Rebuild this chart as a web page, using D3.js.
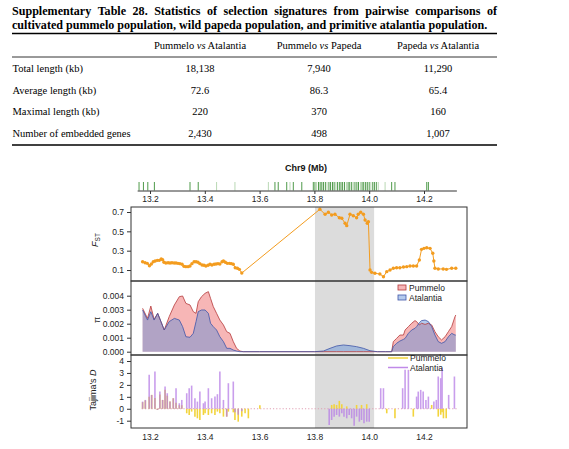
<!DOCTYPE html>
<html><head><meta charset="utf-8">
<script src="https://cdn.jsdelivr.net/npm/d3@7"></script>
<style>body{margin:0;background:#fff}</style>
</head><body>
<svg id="c" width="569" height="449"></svg>
<script>
// ---------------- DATA ----------------
const titleLine1 = "Supplementary Table 28. Statistics of selection signatures from pairwise comparisons of";
const titleLine2 = "cultivated pummelo population, wild papeda population, and primitive atalantia population.";
const tableColumns = [["Pummelo", "vs", "Atalantia"], ["Pummelo", "vs", "Papeda"], ["Papeda", "vs", "Atalantia"]];
const rowLabels = ["Total length (kb)", "Average length (kb)", "Maximal length (kb)", "Number of embedded genes"];
const colPummeloAtalantia = ["18,138", "72.6", "220", "2,430"];
const colPummeloPapeda = ["7,940", "86.3", "370", "498"];
const colPapedaAtalantia = ["11,290", "65.4", "160", "1,007"];

const chartTitle = "Chr9 (Mb)";
const xTicks = [13.2, 13.4, 13.6, 13.8, 14.0, 14.2];
const trackExtent = [13.155, 14.32];
const selectedRegion = [13.802, 14.018];

const geneDark = [13.160, 13.176, 13.192, 13.216, 13.346, 13.376, 13.656, 13.668, 13.699, 13.723, 13.754,
  13.796, 13.802, 13.815, 13.821, 13.827, 13.833, 13.840, 13.853, 13.859, 13.866, 13.872, 13.884, 13.891,
  13.897, 13.903, 13.910, 13.923, 13.929, 13.936, 13.948, 13.955, 13.961, 13.974, 13.980, 13.987, 13.993,
  14.000, 14.013, 14.019, 14.026, 14.082, 14.094, 14.210, 14.216];
const geneFaint = [13.443, 13.510, 13.632, 13.711, 13.808, 13.846, 13.878, 13.917, 13.942, 13.968, 14.006, 14.033, 14.058];

const fstTicks = [0.1, 0.3, 0.5, 0.7];
const fstPos = [13.173, 13.182, 13.190, 13.198, 13.205, 13.212, 13.219, 13.227, 13.234, 13.241, 13.246, 13.251,
  13.258, 13.266, 13.273, 13.280, 13.288, 13.295, 13.302, 13.309, 13.317, 13.324, 13.331, 13.339, 13.346, 13.353,
  13.361, 13.368, 13.375, 13.382, 13.390, 13.397, 13.404, 13.412, 13.419, 13.426, 13.434, 13.441, 13.448, 13.455,
  13.463, 13.468, 13.475, 13.482, 13.490, 13.497, 13.504, 13.511, 13.519, 13.526, 13.535,
  13.820, 13.839, 13.851, 13.863, 13.875, 13.891, 13.900, 13.912, 13.918, 13.930, 13.942, 13.954, 13.960, 13.969,
  13.979, 13.985, 13.993, 13.997, 14.003, 14.009, 14.021, 14.039, 14.052, 14.064, 14.076, 14.088, 14.100, 14.112,
  14.125, 14.137, 14.149, 14.161, 14.173, 14.183, 14.191, 14.200, 14.210, 14.222, 14.232, 14.236, 14.240, 14.252,
  14.270, 14.282, 14.301, 14.316];
const fstValues = [0.186, 0.176, 0.169, 0.145, 0.162, 0.186, 0.193, 0.200, 0.200, 0.214, 0.207, 0.180,
  0.173, 0.176, 0.173, 0.176, 0.173, 0.173, 0.169, 0.166, 0.159, 0.138, 0.135, 0.135, 0.142, 0.166,
  0.186, 0.186, 0.180, 0.166, 0.152, 0.149, 0.142, 0.149, 0.159, 0.152, 0.159, 0.162, 0.166, 0.162,
  0.186, 0.193, 0.180, 0.169, 0.169, 0.166, 0.159, 0.124, 0.118, 0.107, 0.069,
  0.728, 0.676, 0.697, 0.669, 0.676, 0.641, 0.635, 0.583, 0.559, 0.676, 0.662, 0.641, 0.676, 0.697,
  0.676, 0.617, 0.583, 0.600, 0.100, 0.076, 0.066, 0.059, 0.031, 0.083, 0.100, 0.118, 0.124, 0.124,
  0.131, 0.135, 0.142, 0.142, 0.142, 0.204, 0.314, 0.324, 0.331, 0.324, 0.273, 0.193, 0.118, 0.111,
  0.111, 0.107, 0.118, 0.118];

const piTicks = [0, 0.001, 0.002, 0.003, 0.004];
const piPos = [13.173, 13.191, 13.203, 13.215, 13.228, 13.240, 13.252, 13.270, 13.289, 13.307, 13.319, 13.331,
  13.346, 13.358, 13.368, 13.376, 13.388, 13.401, 13.413, 13.421, 13.431, 13.443, 13.455, 13.468, 13.480, 13.492,
  13.504, 13.516, 13.528, 13.540,
  13.600, 13.700, 13.800, 13.833, 13.857, 13.881, 13.906, 13.930, 13.954, 13.979, 14.003, 14.030, 14.060,
  14.082, 14.088, 14.100, 14.112, 14.125, 14.131, 14.143, 14.155, 14.167, 14.173, 14.183, 14.191, 14.204,
  14.216, 14.228, 14.240, 14.252, 14.264, 14.277, 14.289, 14.301, 14.313, 14.316];
const piPummelo = [0.00310, 0.00238, 0.00326, 0.00231, 0.00274, 0.00215, 0.00155, 0.00250, 0.00334, 0.00393, 0.00398, 0.00345,
  0.00334, 0.00286, 0.00274, 0.00357, 0.00393, 0.00417, 0.00429, 0.00381, 0.00322, 0.00274, 0.00226, 0.00191, 0.00143, 0.00131,
  0.00072, 0.00024, 0.00005, 0,
  0, 0, 0, 0, 0, 0, 0, 0, 0, 0, 0, 0, 0,
  0, 0.00072, 0.00095, 0.00119, 0.00119, 0.00155, 0.00179, 0.00203, 0.00222, 0.00215, 0.00191, 0.00203, 0.00195,
  0.00203, 0.00191, 0.00143, 0.00107, 0.00084, 0.00107, 0.00143, 0.00179, 0.00250, 0.00262];
const piAtalantia = [0.00298, 0.00226, 0.00286, 0.00226, 0.00274, 0.00215, 0.00155, 0.00215, 0.00238, 0.00226, 0.00179, 0.00107,
  0.00103, 0.00131, 0.00215, 0.00286, 0.00298, 0.00298, 0.00274, 0.00203, 0.00179, 0.00155, 0.00107, 0.00072, 0.00024, 0.00024,
  0.00012, 0.00005, 0, 0,
  0, 0, 0, 0.00005, 0.00024, 0.00041, 0.00048, 0.00043, 0.00036, 0.00024, 0.00007, 0, 0,
  0, 0.00036, 0.00060, 0.00076, 0.00088, 0.00095, 0.00131, 0.00155, 0.00167, 0.00179, 0.00207, 0.00222, 0.00226,
  0.00215, 0.00179, 0.00119, 0.00072, 0.00060, 0.00072, 0.00107, 0.00131, 0.00119, 0.00119];

const tdTicks = [-1, 0, 1, 2, 3, 4];
const tdPos = [13.173, 13.183, 13.197, 13.206, 13.218, 13.227, 13.236, 13.246, 13.255, 13.263, 13.273, 13.285,
  13.295, 13.307, 13.316, 13.334, 13.343, 13.352, 13.364, 13.373, 13.382, 13.395, 13.401, 13.413, 13.425, 13.437,
  13.446, 13.455, 13.468, 13.480, 13.486, 13.504, 13.510, 13.522, 13.535, 13.547, 13.559, 13.601,
  13.854, 13.863, 13.872, 13.881, 13.891, 13.900, 13.908, 13.918, 13.927, 13.936, 13.945, 13.954, 13.964,
  13.972, 13.981, 13.991, 14.000,
  14.042, 14.052, 14.064, 14.094, 14.122, 14.131, 14.143, 14.161, 14.173, 14.179, 14.188, 14.197, 14.207,
  14.216, 14.228, 14.236, 14.245, 14.252, 14.261, 14.266, 14.271, 14.281, 14.290, 14.311];
const tdPummelo = [0.55, 0.70, 1.00, 1.16, 0.90, -0.10, 1.20, 0.74, 1.60, 1.10, 0.60, 0.88,
  0.50, 0.30, 0.30, -0.38, -0.52, -0.24, -0.66, -0.80, -0.94, -0.52, -0.38, -0.52, -0.38, -0.52,
  -0.24, -0.38, -0.66, -0.66, -0.24, -0.30, -0.94, -1.08, -0.66, -0.38, -0.80, 0.30,
  0, 0.32, 0.38, 0.32, 0.66, 0.38, 0, 0.20, 0, 0, 0, 0.32, 0,
  0.32, 0, 0.38, 0,
  0, 0, -0.38, -0.80, 0, 0, 0, -0.66, 0, 0, 0, 0, 0,
  0, 0.32, 0, 0, -0.66, -0.50, -0.30, -0.80, -0.80, 0, 0];
const tdAtalantia = [0.60, 0.74, 2.84, 1.16, 3.12, -0.10, 1.44, 0.74, 1.86, 1.30, 0.60, 0.88,
  1.72, 0.46, 0.74, 1.30, 1.72, 1.94, 0.88, 0.60, 1.44, 0.46, 0.60, 1.72, 0.88, 1.02,
  1.22, 3.12, 0.74, -0.66, 2.14, 2.28, -0.30, -0.50, -0.20, 0, 0, 0,
  -1.36, -0.94, -0.66, -0.52, -0.66, -0.38, -0.66, -0.80, -0.52, -0.80, -1.42, -0.66, -1.08,
  -0.94, -1.22, -1.08, -1.08,
  1.72, 1.72, 0, 0, 1.72, 3.26, 3.26, 0, 1.02, 1.44, 1.58, 1.44, 0.74,
  1.02, 0, 0.60, 0.74, 2.70, 2.56, 3.40, 0, 0, 1.16, 2.70];

const seriesNames = ["Pummelo", "Atalantia"];

// ---------------- DRAW ----------------
const svg = d3.select("#c");
const serif = "'Liberation Serif', 'Times New Roman', serif";
const sans = "'Liberation Sans', Arial, sans-serif";

// ---- Table title (justified first line) ----
const probe = svg.append("text").attr("font-family", serif).attr("font-weight", "bold").attr("font-size", 12).text(titleLine2);
const w2 = probe.node().getComputedTextLength();
const titleSize = 12 * 476 / w2;
probe.remove();
const words = titleLine1.split(" ");
const wWidths = words.map(w => {
  const t = svg.append("text").attr("font-family", serif).attr("font-weight", "bold").attr("font-size", titleSize).text(w);
  const wd = t.node().getComputedTextLength(); t.remove(); return wd;
});
const gap = (497 - 12 - d3.sum(wWidths)) / (words.length - 1);
let cx = 12;
const tg = svg.append("g").attr("font-family", serif).attr("font-weight", "bold").attr("font-size", titleSize).attr("fill", "#000");
words.forEach((w, i) => { tg.append("text").attr("x", cx).attr("y", 15).text(w); cx += wWidths[i] + gap; });
tg.append("text").attr("x", 12).attr("y", 29).text(titleLine2);

// ---- Table ----
const tableG = svg.append("g").attr("font-family", serif).attr("font-size", 10.5).attr("fill", "#000");
tableG.append("line").attr("x1", 12).attr("x2", 497).attr("y1", 33.5).attr("y2", 33.5).attr("stroke", "#000").attr("stroke-width", 1.6);
tableG.append("line").attr("x1", 12).attr("x2", 497).attr("y1", 57).attr("y2", 57).attr("stroke", "#000").attr("stroke-width", 0.8);
tableG.append("line").attr("x1", 12).attr("x2", 497).attr("y1", 145).attr("y2", 145).attr("stroke", "#000").attr("stroke-width", 1.6);
const colX = [200, 319, 438];
const rowY = [72, 93.5, 115, 136.5];
tableColumns.forEach((c, i) => {
  const t = tableG.append("text").attr("x", colX[i]).attr("y", 49).attr("text-anchor", "middle");
  t.append("tspan").text(c[0] + " ");
  t.append("tspan").attr("font-style", "italic").text(c[1]);
  t.append("tspan").text(" " + c[2]);
});
const cols = [colPummeloAtalantia, colPummeloPapeda, colPapedaAtalantia];
rowLabels.forEach((r, j) => {
  tableG.append("text").attr("x", 12.5).attr("y", rowY[j]).text(r);
  cols.forEach((c, i) => tableG.append("text").attr("x", colX[i]).attr("y", rowY[j]).attr("text-anchor", "middle").text(c[j]));
});

// ---- Chart ----
const x = d3.scaleLinear().domain([13.2, 14.2]).range([150, 424]);
const L = 131, R = 467;
const pF = [207, 281], pP = [281, 355], pT = [355, 428];
const yF = d3.scaleLinear().domain([0, 0.7]).range([279.7, 212]);
const yP = d3.scaleLinear().domain([0, 0.004]).range([351.7, 295.7]);
const yT = d3.scaleLinear().domain([-1, 4]).range([420.7, 361]);

const chart = svg.append("g").attr("font-family", sans);

chart.append("text").attr("x", 306).attr("y", 171).attr("text-anchor", "middle")
  .attr("font-weight", "bold").attr("font-size", 9).attr("fill", "#111").text(chartTitle);

// gene track
chart.append("g").selectAll("line").data(geneFaint).join("line")
  .attr("x1", d => x(d)).attr("x2", d => x(d)).attr("y1", 182).attr("y2", 190.5)
  .attr("stroke", "#b9d8b4").attr("stroke-width", 1);
chart.append("g").selectAll("line").data(geneDark).join("line")
  .attr("x1", d => x(d)).attr("x2", d => x(d)).attr("y1", 182).attr("y2", 190.5)
  .attr("stroke", "#4f9a4a").attr("stroke-width", 1);
chart.append("line").attr("x1", x(trackExtent[0])).attr("x2", x(trackExtent[1])).attr("y1", 191).attr("y2", 191)
  .attr("stroke", "#333").attr("stroke-width", 1);
const topAxis = chart.append("g").attr("transform", "translate(0,191)")
  .call(d3.axisBottom(x).tickValues(xTicks).tickFormat(d3.format(".1f")).tickSize(3).tickPadding(2));
topAxis.select(".domain").remove();
topAxis.selectAll("line").attr("stroke", "#333");
topAxis.selectAll("text").attr("font-family", sans).attr("font-size", 8.5).attr("fill", "#222");

// selected region band
chart.append("rect").attr("x", x(selectedRegion[0])).attr("width", x(selectedRegion[1]) - x(selectedRegion[0]))
  .attr("y", pF[0]).attr("height", pT[1] - pF[0]).attr("fill", "#dcdcdc");

// FST
const fstData = fstPos.map((p, i) => [p, fstValues[i]]);
chart.append("path").datum(fstData)
  .attr("d", d3.line().x(d => x(d[0])).y(d => yF(d[1])))
  .attr("fill", "none").attr("stroke", "#f39c1f").attr("stroke-width", 1);
chart.append("g").selectAll("circle").data(fstData).join("circle")
  .attr("cx", d => x(d[0])).attr("cy", d => yF(d[1])).attr("r", 1.7).attr("fill", "#f39c1f");

// Pi
const piP = piPos.map((p, i) => [p, piPummelo[i]]);
const piA = piPos.map((p, i) => [p, piAtalantia[i]]);
const areaP = d3.area().x(d => x(d[0])).y0(yP(0)).y1(d => yP(d[1]));
const lineP = d3.line().x(d => x(d[0])).y(d => yP(d[1]));
chart.append("path").datum(piP).attr("d", areaP).attr("fill", "rgba(240,110,110,0.5)");
chart.append("path").datum(piA).attr("d", areaP).attr("fill", "rgba(90,140,215,0.45)");
chart.append("path").datum(piP).attr("d", lineP).attr("fill", "none").attr("stroke", "#b5383a").attr("stroke-width", 0.8);
chart.append("path").datum(piA).attr("d", lineP).attr("fill", "none").attr("stroke", "#3f55a8").attr("stroke-width", 0.8);

// Tajima's D
chart.append("line").attr("x1", x(13.17)).attr("x2", x(14.32)).attr("y1", yT(0)).attr("y2", yT(0))
  .attr("stroke", "#e0a0b4").attr("stroke-width", 1).attr("stroke-dasharray", "1.2,2");
const tdP = tdPos.map((p, i) => [p, tdPummelo[i]]).filter(d => d[1] !== 0);
const tdA = tdPos.map((p, i) => [p, tdAtalantia[i]]).filter(d => d[1] !== 0);
chart.append("g").selectAll("line").data(tdP).join("line")
  .attr("x1", d => x(d[0])).attr("x2", d => x(d[0])).attr("y1", yT(0)).attr("y2", d => yT(d[1]))
  .attr("stroke", "#f2d43c").attr("stroke-width", 1.6);
chart.append("g").selectAll("line").data(tdA).join("line")
  .attr("x1", d => x(d[0])).attr("x2", d => x(d[0])).attr("y1", yT(0)).attr("y2", d => yT(d[1]))
  .attr("stroke", "#b77ee6").attr("stroke-opacity", 0.75).attr("stroke-width", 1.6);

// panel boxes
[pF, pP, pT].forEach(p => {
  chart.append("rect").attr("x", L).attr("y", p[0]).attr("width", R - L).attr("height", p[1] - p[0])
    .attr("fill", "none").attr("stroke", "#333").attr("stroke-width", 1);
});

// y axes
function yAxis(scale, ticks, fmt) {
  const g = chart.append("g").attr("transform", `translate(${L},0)`)
    .call(d3.axisLeft(scale).tickValues(ticks).tickFormat(fmt).tickSize(4).tickPadding(3));
  g.select(".domain").remove();
  g.selectAll("line").attr("stroke", "#333");
  g.selectAll("text").attr("font-family", sans).attr("font-size", 8.5).attr("fill", "#222");
}
yAxis(yF, fstTicks, d3.format(".1f"));
yAxis(yP, piTicks, d3.format(".3f"));
yAxis(yT, tdTicks, d => String(d));

// bottom axis
const botAxis = chart.append("g").attr("transform", `translate(0,${pT[1]})`)
  .call(d3.axisBottom(x).tickValues(xTicks).tickFormat(d3.format(".1f")).tickSize(0).tickPadding(6));
botAxis.select(".domain").remove();
botAxis.selectAll("text").attr("font-family", sans).attr("font-size", 8.5).attr("fill", "#222");

// y labels
const fl = chart.append("text").attr("transform", "translate(98,240) rotate(-90)").attr("text-anchor", "middle")
  .attr("font-size", 9).attr("fill", "#222");
fl.append("tspan").attr("font-style", "italic").text("F");
fl.append("tspan").attr("font-size", 6.5).attr("dy", 2).text("ST");
chart.append("text").attr("transform", "translate(100,320) rotate(-90)").attr("text-anchor", "middle")
  .attr("font-size", 9).attr("fill", "#222").text("π");
const tl = chart.append("text").attr("transform", "translate(96,390) rotate(-90)").attr("text-anchor", "middle")
  .attr("font-size", 9).attr("fill", "#222");
tl.append("tspan").text("Tajima's ");
tl.append("tspan").attr("font-style", "italic").text("D");

// pi legend
const piFills = ["rgba(240,110,110,0.5)", "rgba(90,140,215,0.45)"];
const piStrokes = ["#b5383a", "#3f55a8"];
seriesNames.forEach((s, i) => {
  chart.append("rect").attr("x", 398).attr("y", 285 + i * 10).attr("width", 8).attr("height", 5)
    .attr("fill", piFills[i]).attr("stroke", piStrokes[i]).attr("stroke-width", 0.8);
  chart.append("text").attr("x", 409).attr("y", 290.5 + i * 10).attr("font-size", 8.5).attr("fill", "#222").text(s);
});
// td legend
const tdColors = ["#f2d43c", "#c08ae8"];
seriesNames.forEach((s, i) => {
  chart.append("line").attr("x1", 388).attr("x2", 408).attr("y1", 358 + i * 9.5).attr("y2", 358 + i * 9.5)
    .attr("stroke", tdColors[i]).attr("stroke-width", 1.5);
  chart.append("text").attr("x", 410).attr("y", 361 + i * 9.5).attr("font-size", 8.5).attr("fill", "#222").text(s);
});
</script>
</body></html>
